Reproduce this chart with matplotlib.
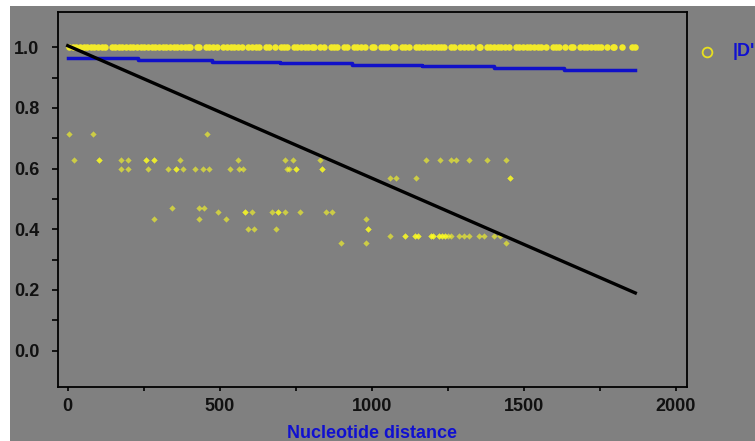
import matplotlib
matplotlib.use("Agg")
import matplotlib.pyplot as plt
from matplotlib.patches import Rectangle
from matplotlib.ticker import MultipleLocator, FixedLocator

# ---------------- data ----------------
# |D'| values equal to 1.0 (nucleotide distance of each pair)
d1_x = [4, 16, 28, 40, 52, 64, 76, 88, 100, 112, 121,
        144, 156, 168, 180, 192, 204, 216, 228, 240, 252, 264, 276, 288, 300, 312,
        324, 336, 348, 360, 372, 384, 396, 401,
        424, 431, 453, 465, 477, 490, 512, 524, 536, 548, 560, 572,
        594, 606, 618, 629, 651, 661, 681, 700, 712, 720,
        743, 755, 767, 779, 791, 803, 809, 831, 842, 864, 876, 885, 907, 918,
        940, 952, 964, 977, 999, 1007, 1030, 1040, 1049, 1071, 1075,
        1098, 1110, 1122, 1144, 1156, 1168, 1180, 1192, 1204, 1216, 1228, 1236,
        1259, 1269, 1291, 1303, 1315, 1329, 1351, 1355,
        1377, 1389, 1401, 1413, 1425, 1437, 1450,
        1473, 1485, 1497, 1509, 1521, 1533, 1545, 1557, 1572,
        1594, 1606, 1615, 1634, 1654, 1661,
        1684, 1696, 1708, 1720, 1732, 1744, 1753, 1772, 1792, 1796,
        1823, 1856, 1866]

# |D'| values below 1.0, grouped by value level (repeated x = overlapping pairs)
x_714 = [4, 84, 459]
x_625 = [20, 102, 102, 174, 199, 257, 257, 282, 282, 369, 559, 715, 740, 830,
         1179, 1225, 1260, 1275, 1320, 1380, 1440]
x_600 = [174, 199, 264, 329, 355, 355, 378, 418, 444, 465, 534, 563, 575, 720, 729,
         751, 751, 835, 835]
x_570 = [1060, 1080, 1145, 1453, 1453]
x_470 = [344, 432, 449]
x_456 = [495, 584, 584, 607, 671, 691, 691, 715, 764, 849, 868]
x_435 = [284, 433, 521, 980]
x_401 = [594, 614, 684, 987, 987]
x_378 = [1060, 1108, 1108, 1143, 1143, 1151, 1151, 1195, 1195, 1202, 1202, 1219, 1219,
         1230, 1230, 1241, 1241, 1249, 1260, 1285, 1304, 1320, 1351, 1367, 1403, 1422]
x_354 = [899, 980, 1440]
level_values = [0.714, 0.627, 0.600, 0.570, 0.470, 0.456, 0.435, 0.401, 0.378, 0.354]
level_x = [x_714, x_625, x_600, x_570, x_470, x_456, x_435, x_401, x_378, x_354]

# blue step curve
step_x = [0, 231, 474, 698, 934, 1165, 1400, 1630, 1866]
step_y = [0.963, 0.957, 0.952, 0.947, 0.942, 0.937, 0.931, 0.926, 0.926]

# black decay line
decay_x = [0, 1866]
decay_y = [1.005, 0.19]

x_ticks = [0, 500, 1000, 1500, 2000]
y_ticks = [0.0, 0.2, 0.4, 0.6, 0.8, 1.0]

# ---------------- figure ----------------
W, H = 755, 441
fig = plt.figure(figsize=(W / 100, H / 100), dpi=100, facecolor="white")
GRAY = "#808080"
fig.patches.append(Rectangle((10 / W, 0), 1 - 10 / W, 1 - 6 / H, transform=fig.transFigure,
                             facecolor=GRAY, edgecolor="none", zorder=-5))

ax = fig.add_axes([58 / W, (H - 387) / H, 629 / W, 375 / H])
ax.set_facecolor(GRAY)
ax.set_xlim(-32, 2036)
ax.set_ylim(-0.12, 1.116)

FONT = ["Liberation Sans", "DejaVu Sans"]

ax.plot(d1_x, [1.0] * len(d1_x), linestyle="none", marker="o", markersize=4.7,
        color="#f2ea2a", markeredgewidth=0, zorder=3)
for yv, xs in zip(level_values, level_x):
    ax.plot(xs, [yv] * len(xs), linestyle="none", marker="D", markersize=3.2,
            color="#ffff20", alpha=0.6, markeredgewidth=0, zorder=3)
ax.step(step_x, step_y, where="post", color="#1010c8", linewidth=2.5, zorder=2)
ax.plot(decay_x, decay_y, color="black", linewidth=2.4, zorder=4)

for s in ax.spines.values():
    s.set_color("black")
    s.set_linewidth(1.3)

ax.xaxis.set_major_locator(FixedLocator(x_ticks))
ax.xaxis.set_minor_locator(MultipleLocator(250))
ax.yaxis.set_major_locator(FixedLocator(y_ticks))
ax.yaxis.set_minor_locator(FixedLocator([0.1, 0.3, 0.5, 0.7, 0.9]))
ax.tick_params(axis="x", which="both", direction="out", length=3, width=1.2, color="black", pad=5)
ax.tick_params(axis="y", which="both", direction="out", length=4.5, width=1.2, color="black", pad=9)
ax.set_xticklabels([str(v) for v in x_ticks])
ax.set_yticklabels([f"{v:.1f}" for v in y_ticks])
for lab in ax.get_xticklabels() + ax.get_yticklabels():
    lab.set_fontfamily(FONT)
    lab.set_fontweight("bold")
    lab.set_fontsize(13)
    lab.set_color("#111111")

fig.text((58 + (1000 + 32) / 2068 * 629) / W, 3 / H, "Nucleotide distance", ha="center",
         va="baseline", color="#1010d0", fontweight="bold", fontsize=13, family=FONT)

# legend (its text runs off the right edge, as in the reference)
fig.lines.append(plt.Line2D([707 / W], [1 - 52 / H], transform=fig.transFigure, marker="o",
                            markersize=7, markerfacecolor="none", markeredgecolor="#e8e020",
                            markeredgewidth=1.3, linestyle="none"))
fig.text(733 / W, 1 - 52 / H, "|D'|", ha="left", va="center", color="#1010d0",
         fontweight="bold", fontsize=13, family=FONT)

fig.savefig("out.png", dpi=100, facecolor=fig.get_facecolor())
